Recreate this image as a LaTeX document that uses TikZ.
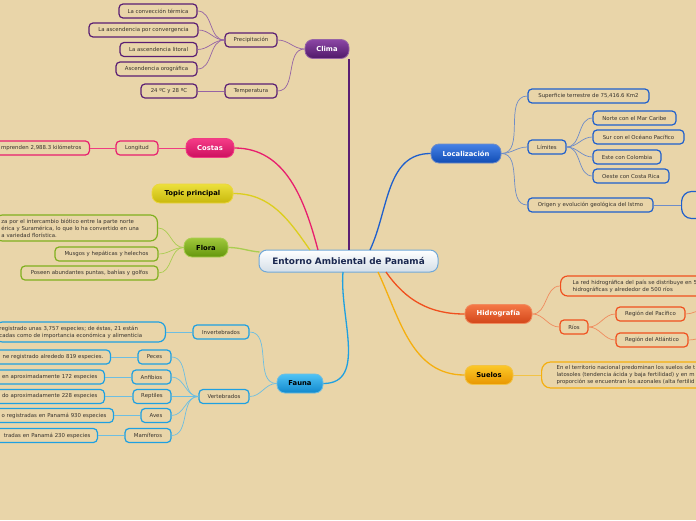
\documentclass[tikz,border=0pt]{standalone}
\usepackage{fontspec}
\setmainfont{DejaVu Sans}
\definecolor{bg}{RGB}{233,213,169}
\definecolor{txt}{RGB}{55,50,45}
% Clima
\definecolor{clT}{RGB}{140,70,165}\definecolor{clB}{RGB}{80,25,105}\definecolor{clD}{RGB}{90,30,115}\definecolor{clL}{RGB}{150,100,165}
% Costas
\definecolor{coT}{RGB}{245,60,135}\definecolor{coB}{RGB}{205,15,95}\definecolor{coD}{RGB}{232,30,110}\definecolor{coL}{RGB}{240,60,130}
% Topic principal
\definecolor{tpT}{RGB}{236,224,60}\definecolor{tpB}{RGB}{200,184,12}\definecolor{tpD}{RGB}{220,206,30}\definecolor{tpL}{RGB}{236,214,60}
% Flora
\definecolor{flT}{RGB}{160,200,60}\definecolor{flB}{RGB}{100,150,12}\definecolor{flD}{RGB}{128,176,30}\definecolor{flL}{RGB}{170,205,80}
% Fauna
\definecolor{faT}{RGB}{80,195,245}\definecolor{faB}{RGB}{16,136,205}\definecolor{faD}{RGB}{30,160,225}\definecolor{faL}{RGB}{110,190,225}
% Localizacion
\definecolor{loT}{RGB}{70,130,230}\definecolor{loB}{RGB}{16,76,180}\definecolor{loD}{RGB}{30,95,205}\definecolor{loL}{RGB}{110,140,200}
% Hidrografia
\definecolor{hiT}{RGB}{245,120,70}\definecolor{hiB}{RGB}{210,70,25}\definecolor{hiD}{RGB}{240,80,30}\definecolor{hiL}{RGB}{240,140,95}
% Suelos
\definecolor{suT}{RGB}{252,200,40}\definecolor{suB}{RGB}{232,150,0}\definecolor{suD}{RGB}{245,175,15}\definecolor{suL}{RGB}{242,195,70}
% Center
\definecolor{ceB}{RGB}{112,168,216}\definecolor{ceT}{RGB}{26,40,80}
\newcommand\leaffont{\fontsize{5.4}{7}\selectfont}
\newcommand\topicfont{\fontsize{6.8}{8}\selectfont\bfseries}
\tikzset{
  leaf/.style={draw=#1, line width=1.2pt, fill=bg, rounded corners=4pt,
    minimum height=14pt, inner sep=0pt, font=\leaffont, text=txt},
  topic/.style n args={3}{top color=#1, bottom color=#2, draw=#3, line width=0.8pt,
    rounded corners=8pt, minimum height=19pt, inner sep=0pt, font=\topicfont},
  mainline/.style={draw=#1, line width=1.3pt},
  subline/.style={draw=#1, line width=0.7pt},
}
\begin{document}
\begin{tikzpicture}[x=1pt,y=-1pt]
\clip (0,0) rectangle (696,520);
\fill[bg] (0,0) rectangle (696,520);

% ---------- center
\node[draw=ceB, line width=1pt, top color=white, bottom color={rgb,255:red,212;green,222;blue,232},
  rounded corners=8pt, minimum width=179pt, minimum height=22pt, inner sep=0pt,
  font=\fontsize{8.9}{10}\selectfont\bfseries, text=ceT] (cen) at (348.5,261) {Entorno Ambiental de Panamá};

% ---------- main topics
\node[topic={clT}{clB}{clL}, text=white, minimum width=44pt] (clima) at (327,49) {Clima};
\node[topic={coT}{coB}{coL}, text=white, minimum width=48pt] (costas) at (210,148) {Costas};
\node[topic={tpT}{tpB}{tpL}, text=black, minimum width=81pt] (tp) at (192.5,193.5) {Topic principal};
\node[topic={flT}{flB}{flL}, text=black, minimum width=44pt] (flora) at (206,247.5) {Flora};
\node[topic={faT}{faB}{faL}, text=black, minimum width=46pt] (fauna) at (300,383.5) {Fauna};
\node[topic={loT}{loB}{loL}, text=white, minimum width=70pt] (loc) at (466,153.5) {Localización};
\node[topic={hiT}{hiB}{hiL}, text=white, minimum width=67pt] (hid) at (498.5,314) {Hidrografía};
\node[topic={suT}{suB}{suL}, text=black, minimum width=48pt] (sue) at (489,375) {Suelos};

% ---------- Clima
\node[leaf=clD, minimum width=52pt] (prec) at (251,40) {Precipitación};
\node[leaf=clD, minimum width=52pt] (temp) at (251,91) {Temperatura};
\node[leaf=clD, minimum width=78pt] (p1) at (158,11) {La convección térmica};
\node[leaf=clD, minimum width=109pt] (p2) at (143.5,30) {La ascendencia por convergencia};
\node[leaf=clD, minimum width=77pt] (p3) at (158.5,49.5) {La ascendencia litoral};
\node[leaf=clD, minimum width=81pt] (p4) at (156.5,69) {Ascendencia orográfica};
\node[leaf=clD, minimum width=56pt] (t1) at (169,91) {24 ºC y 28 ºC};

% ---------- Costas
\node[leaf=coD, minimum width=42pt] (lon) at (137,148) {Longitud};
\node[leaf=coD, anchor=east, text width=200pt, align=right, inner xsep=8pt] (lon1) at (90,148) {mprenden 2,988.3 kilómetros};

% ---------- Flora
\node[leaf=flD, anchor=east, text width=150pt, align=left, inner xsep=6pt, minimum height=26pt, rounded corners=7pt] (fl1) at (158,228)
  {za por el intercambio biótico entre la parte norte\\érica y Suramérica, lo que lo ha convertido en una\\a variedad florística.};
\node[leaf=flD, minimum width=103pt] (fl2) at (106.5,254) {Musgos y hepáticas y helechos};
\node[leaf=flD, minimum width=137pt] (fl3) at (89.5,273) {Poseen abundantes puntas, bahías y golfos};

% ---------- Fauna
\node[leaf=faD, minimum width=56pt] (inv) at (221,332) {Invertebrados};
\node[leaf=faD, anchor=east, text width=162pt, align=left, inner xsep=4pt, minimum height=20pt, rounded corners=7pt] (inv1) at (166,332)
  {registrado unas 3,757 especies; de éstas, 21 están\\cadas como de importancia económica y alimenticia};
\node[leaf=faD, minimum width=50pt] (ver) at (224,396.5) {Vertebrados};
\node[leaf=faD, minimum width=33pt] (pec) at (154.5,357) {Peces};
\node[leaf=faD, minimum width=39pt] (anf) at (151.5,377) {Anfibios};
\node[leaf=faD, minimum width=38pt] (rep) at (152,396.5) {Reptiles};
\node[leaf=faD, minimum width=30pt] (ave) at (156,415.5) {Aves};
\node[leaf=faD, minimum width=46pt] (mam) at (148,435.5) {Mamíferos};
\node[leaf=faD, anchor=east, text width=200pt, align=right, inner xsep=7pt] (pec1) at (111,357) {ne registrado alrededo 819 especies.};
\node[leaf=faD, anchor=east, text width=200pt, align=right, inner xsep=7pt] (anf1) at (105,377) {en aproximadamente 172 especies};
\node[leaf=faD, anchor=east, text width=200pt, align=right, inner xsep=7pt] (rep1) at (105,396.5) {do aproximadamente 228 especies};
\node[leaf=faD, anchor=east, text width=200pt, align=right, inner xsep=7pt] (ave1) at (114,415.5) {o registradas en Panamá 930 especies};
\node[leaf=faD, anchor=east, text width=200pt, align=right, inner xsep=7pt] (mam1) at (98,435.5) {tradas en Panamá 230 especies};

% ---------- Localizacion
\node[leaf=loD, minimum width=121pt] (sup) at (588.5,96) {Superficie terrestre de 75,416.6 Km2};
\node[leaf=loD, minimum width=38pt] (lim) at (547,147) {Límites};
\node[leaf=loD, minimum width=83pt] (l1) at (634.5,118) {Norte con el Mar Caribe};
\node[leaf=loD, minimum width=91pt] (l2) at (638.5,137) {Sur con el Océano Pacífico};
\node[leaf=loD, minimum width=68pt] (l3) at (627,157) {Este con Colombia};
\node[leaf=loD, minimum width=76pt] (l4) at (631,176) {Oeste con Costa Rica};
\node[leaf=loD, minimum width=125pt] (ori) at (590.5,205) {Origen y evolución geológica del Istmo};
\node[leaf=loD, anchor=west, minimum width=60pt, minimum height=27pt, rounded corners=10pt] (big) at (681,205) {};

% ---------- Hidrografia
\node[leaf=hiD, anchor=west, text width=200pt, align=left, inner xsep=12pt, minimum height=20pt, rounded corners=7pt] (h1) at (560,286)
  {La red hidrográfica del país se distribuye en 5\\hidrográficas y alrededor de 500 ríos};
\node[leaf=hiD, minimum width=28pt] (rios) at (574,327) {Ríos};
\node[leaf=hiD, minimum width=69pt] (rp) at (650.5,314) {Región del Pacífico};
\node[leaf=hiD, minimum width=72pt] (ra) at (652,340) {Región del Atlántico};
\coordinate (rpx) at (704,310);
\coordinate (rax) at (704,338);

% ---------- Suelos
\node[leaf=suD, anchor=west, text width=200pt, align=left, inner xsep=15pt, minimum height=26pt, rounded corners=9pt] (s1) at (541,375)
  {En el territorio nacional predominan los suelos de t\\latosoles (tendencia ácida y baja fertilidad) y en m\\proporción se encuentran los azonales (alta fertilid};

% ---------- main connectors
\coordinate (cCl) at (349,250);
\coordinate (cCo) at (318,250);
\coordinate (cTp) at (310,250);
\coordinate (cFl) at (259.5,252);
\coordinate (cFa) at (343,272);
\coordinate (cLo) at (370,250);
\coordinate (cHi) at (386,272);
\coordinate (cSu) at (378,272);
\draw[mainline=clD] (cCl) -- (cCl |- clima.south);
\draw[mainline=coD] (cCo) to[out=105,in=0] (costas.east);
\draw[mainline=tpD] (cTp) to[out=125,in=0] (tp.east);
\draw[mainline=flL] (cFl) to[out=175,in=0] (flora.east);
\draw[mainline=faD] (cFa) to[out=-95,in=0] (fauna.east);
\draw[mainline=loD] (cLo) to[out=65,in=180] (loc.west);
\draw[mainline=hiD] (cHi) to[out=-55,in=180] (hid.west);
\draw[mainline=suD] (cSu) to[out=-65,in=180] (sue.west);

% ---------- branch connectors
\foreach \n in {prec,temp} \draw[subline=clL] (clima.west) to[out=180,in=0] (\n.east);
\foreach \n in {p1,p2,p3,p4} \draw[subline=clL] (prec.west) to[out=180,in=0] (\n.east);
\draw[subline=clL] (temp.west) -- (t1.east);

\draw[subline=coL] (costas.west) -- (lon.east);
\draw[subline=coL] (lon.west) -- (lon1.east);

\foreach \n in {fl1,fl2,fl3} \draw[subline=flL] (flora.west) to[out=180,in=0] (\n.east);

\foreach \n in {inv,ver} \draw[subline=faL] (fauna.west) to[out=180,in=0] (\n.east);
\draw[subline=faL] (inv.west) -- (inv1.east);
\foreach \n in {pec,anf,rep,ave,mam} \draw[subline=faL] (ver.west) to[out=180,in=0] (\n.east);
\draw[subline=faL] (pec.west) -- (pec1.east);
\draw[subline=faL] (anf.west) -- (anf1.east);
\draw[subline=faL] (rep.west) -- (rep1.east);
\draw[subline=faL] (ave.west) -- (ave1.east);
\draw[subline=faL] (mam.west) -- (mam1.east);

\foreach \n in {sup,lim,ori} \draw[subline=loL] (loc.east) to[out=0,in=180] (\n.west);
\foreach \n in {l1,l2,l3,l4} \draw[subline=loL] (lim.east) to[out=0,in=180] (\n.west);
\draw[subline=loL] (ori.east) -- (big.west);

\foreach \n in {h1,rios} \draw[subline=hiL] (hid.east) to[out=0,in=180] (\n.west);
\foreach \n in {rp,ra} \draw[subline=hiL] (rios.east) to[out=0,in=180] (\n.west);
\draw[subline=hiL] (rp.east) to[out=0,in=180] (rpx);
\draw[subline=hiL] (ra.east) to[out=0,in=180] (rax);

\draw[subline=suL] (sue.east) -- (s1.west);
\end{tikzpicture}
\end{document}
